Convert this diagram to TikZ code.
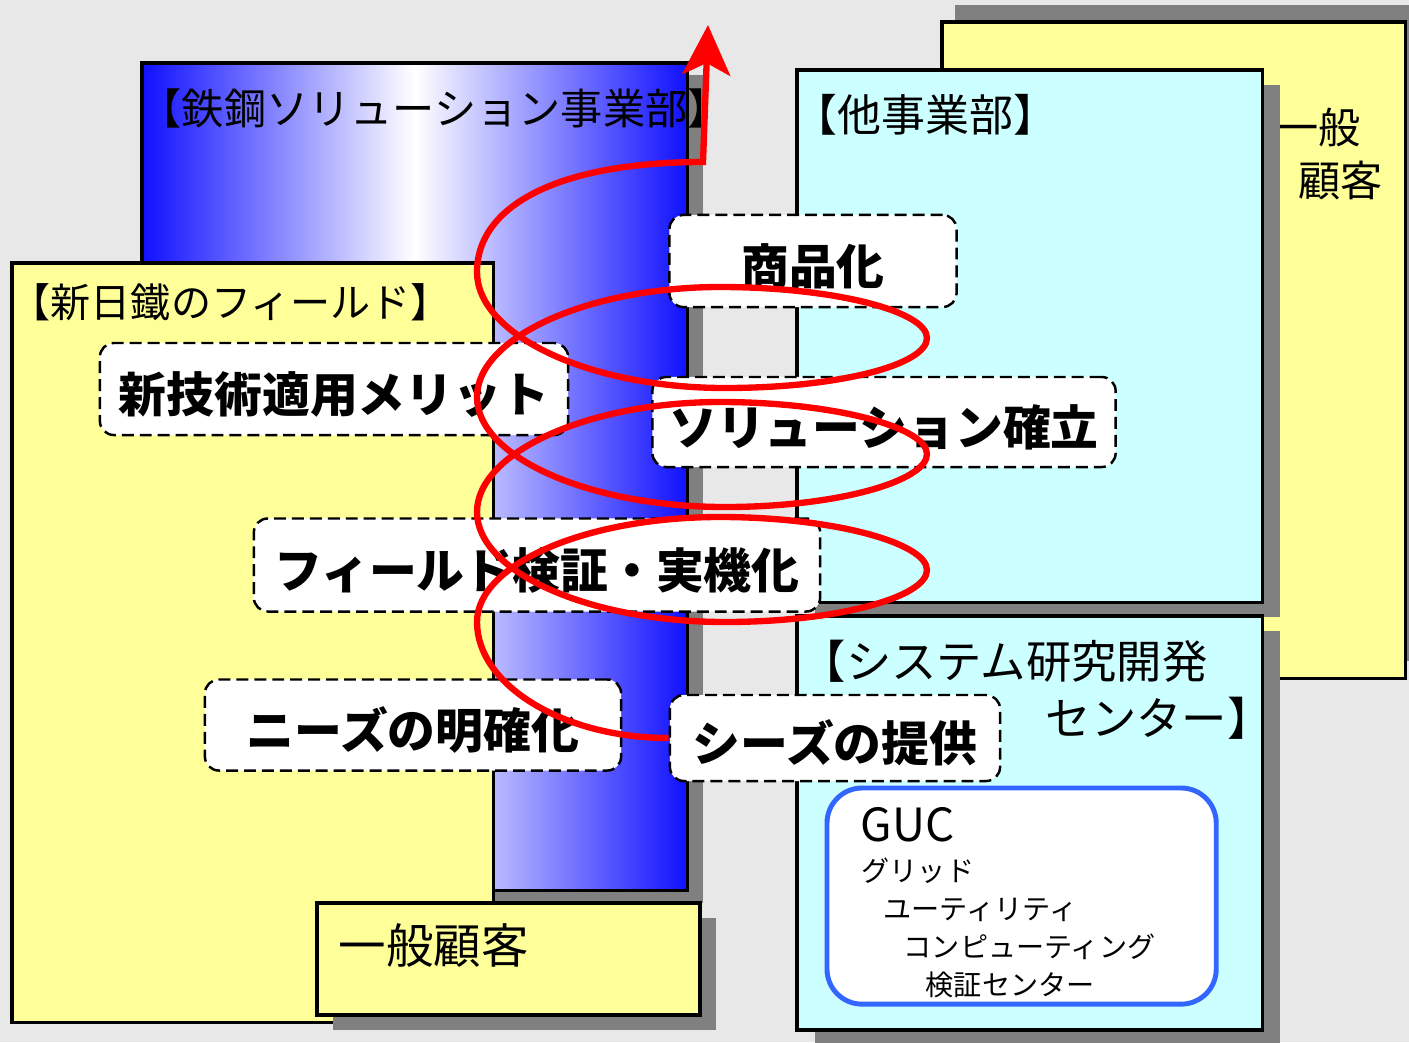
\documentclass[tikz,border=0pt]{standalone}
\usepackage{fontspec}
\setmainfont{Noto Sans CJK JP}
\usetikzlibrary{arrows.meta,shadows}

\definecolor{bggray}{HTML}{E8E8E8}
\definecolor{shadowgray}{HTML}{808080}
\definecolor{fieldyellow}{HTML}{FFFF99}
\definecolor{paleaqua}{HTML}{CCFFFF}
\definecolor{steelblue}{HTML}{1010FF}
\definecolor{gucblue}{HTML}{3366FF}

\tikzset{
  panel/.style={draw=black, line width=1pt, anchor=north west, inner sep=0pt, outer sep=0pt},
  shadowed/.style 2 args={drop shadow={shadow xshift=#1, shadow yshift=#2, fill=shadowgray, opacity=1}},
  paneltitle/.style={anchor=west, inner sep=0pt, font=\fontsize{12pt}{15pt}\selectfont},
  stepbox/.style={draw, dash pattern=on 3.4pt off 1.7pt, line width=0.7pt, fill=white,
    rounded corners=4pt, inner sep=0pt, text height=14pt, text depth=0.5pt,
    font=\bfseries\fontsize{13.6pt}{16pt}\selectfont},
  spiral/.style={red, line width=1.8pt}
}

\begin{document}
\begin{tikzpicture}[x=0.01cm, y=-0.01cm]
  % Background
  \fill[bggray] (0,0) rectangle (1409,1042);
  \useasboundingbox (0,0) rectangle (1409,1042);
  % Customers, top right
  \node[panel, fill=fieldyellow, minimum width=4.63cm, minimum height=6.56cm, shadowed={0.13cm}{0.17cm}] (topcust) at (942,22) {};
  \node[paneltitle, align=left] (topcusttext) at (1276,154) {一般\\\hspace*{0.22cm}顧客};
  % Steel solution division
  \node[panel, left color=steelblue, right color=steelblue, middle color=white,
        minimum width=5.45cm, minimum height=8.27cm, shadowed={0.16cm}{-0.12cm}] (steel) at (142,63) {};
  \node[paneltitle] (steeltitle) at (139,108) {【鉄鋼ソリューション事業部】};
  % Field
  \node[panel, fill=fieldyellow, minimum width=4.81cm, minimum height=7.59cm] (field) at (12,263) {};
  \node[paneltitle, font=\fontsize{11.4pt}{14pt}\selectfont] (fieldtitle) at (10,302) {【新日鐵のフィールド】};
  \node[panel, fill=fieldyellow, minimum width=3.83cm, minimum height=1.12cm, shadowed={0.16cm}{-0.15cm}] (cust) at (317,903) {};
  \node[paneltitle, font=\fontsize{13.5pt}{16pt}\selectfont] (custtext) at (338,945) {一般顧客};
  % Other divisions
  \node[panel, fill=paleaqua, minimum width=4.65cm, minimum height=5.32cm, shadowed={0.18cm}{-0.15cm}] (other) at (797,70) {};
  \node[paneltitle, font=\fontsize{12.5pt}{15pt}\selectfont] (othertitle) at (793,115) {【他事業部】};
  % System research center
  \node[panel, fill=paleaqua, minimum width=4.65cm, minimum height=4.14cm, shadowed={0.18cm}{-0.15cm}] (sys) at (797,616) {};
  \node[paneltitle, align=left, font=\fontsize{12.9pt}{16.2pt}\selectfont] (systitle) at (800,690)
    {【システム研究開発\\\hspace*{2.45cm}センター】};
  \node[panel, draw=gucblue, line width=1.4pt, fill=white, rounded corners=0.35cm,
        minimum width=3.89cm, minimum height=2.16cm] (guc) at (827,788) {};
  \node[anchor=west, inner sep=0pt, font=\fontsize{13pt}{15pt}\selectfont] (guctitle) at (860,825) {GUC};
  \node[anchor=north west, inner sep=0pt, align=left, font=\fontsize{8pt}{10.8pt}\selectfont] (guctext) at (861,857)
    {グリッド\\\hspace*{0.22cm}ユーティリティ\\\hspace*{0.42cm}コンピューティング\\\hspace*{0.64cm}検証センター};
  % Steps
  \node[stepbox, minimum width=4.68cm, minimum height=0.92cm] (merit) at (334,389) {新技術適用メリット};
  \node[stepbox, minimum width=2.87cm, minimum height=0.92cm] (product) at (813,261) {商品化};
  \node[stepbox, minimum width=4.63cm, minimum height=0.90cm] (solution) at (884,422) {ソリューション確立};
  \node[stepbox, minimum width=5.66cm, minimum height=0.93cm] (fieldtest) at (537,565) {フィールド検証・実機化};
  \node[stepbox, minimum width=4.16cm, minimum height=0.91cm] (needs) at (413,725) {ニーズの明確化};
  \node[stepbox, minimum width=3.30cm, minimum height=0.86cm] (seeds) at (835,738) {シーズの提供};
  % Spiral
  \draw[spiral, -{Stealth[length=0.5cm, width=0.48cm, inset=0.12cm]}]
    (seeds.west) .. controls (563,738) and (477,685) .. (477,622)
    .. controls (477,564) and (586,517) .. (720,517)
    .. controls (833,517) and (927,543) .. (927,570)
    .. controls (927,597) and (838,622) .. (725,622)
    .. controls (589,622) and (477,572) .. (477,512)
    .. controls (477,452) and (589,402) .. (720,402)
    .. controls (833,402) and (927,427) .. (927,454)
    .. controls (927,481) and (838,507) .. (725,507)
    .. controls (589,507) and (477,457) .. (477,397)
    .. controls (477,337) and (589,287) .. (720,287)
    .. controls (833,287) and (927,311) .. (927,338)
    .. controls (927,365) and (838,388) .. (725,388)
    .. controls (589,388) and (477,335) .. (477,272)
    .. controls (477,205) and (560,162) .. (703,162)
    -- (708,25);
\end{tikzpicture}
\end{document}
